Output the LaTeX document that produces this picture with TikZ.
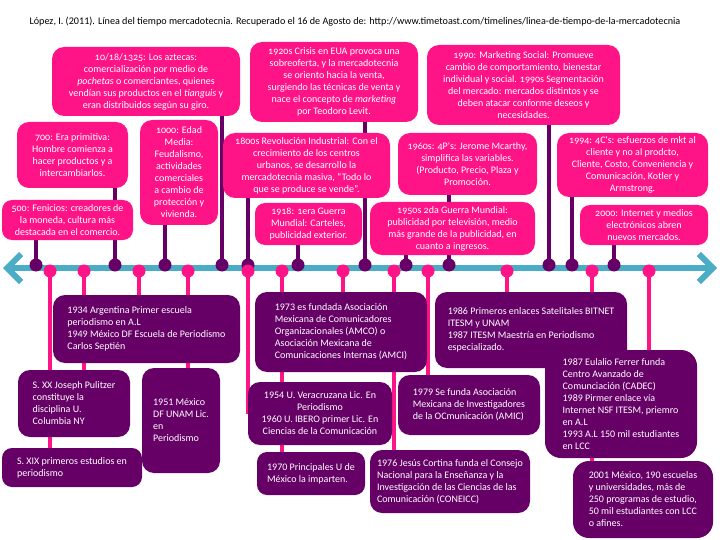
\documentclass[tikz,border=0pt]{standalone}
\usepackage{fontspec}
\setmainfont{Carlito}
\newfontfamily\topfont[Numbers=OldStyle]{Carlito}
\usepackage{tikz}
\definecolor{tlpink}{RGB}{255,20,135}
\definecolor{tlpurple}{RGB}{102,0,102}
\definecolor{tlaxis}{RGB}{75,172,198}
\tikzset{boxsize/.style 2 args={minimum width=#1pt,minimum height=#2pt},
         topbox/.style={rectangle,rounded corners=12pt,fill=tlpink,text=white,align=center,inner sep=2pt,font=\topfont\fontsize{10}{12}\selectfont},
         botbox/.style={rectangle,rounded corners=12pt,fill=tlpurple,text=white,align=left,inner sep=2pt,font=\fontsize{10}{12}\selectfont},
         darkdot/.style={circle,fill=tlpurple,inner sep=0,minimum size=13pt},
         pinkdot/.style={circle,fill=tlpink,inner sep=0,minimum size=13pt},
         darkstem/.style={line width=4pt,draw=tlpurple},
         pinkstem/.style={line width=4pt,draw=tlpink}}
\usetikzlibrary{arrows.meta}
\pgfdeclarelayer{background}
\pgfdeclarelayer{stems}
\pgfsetlayers{background,stems,main}

\begin{document}
\begin{tikzpicture}[x=1pt,y=-1pt]
\useasboundingbox (0,0) rectangle (720,540);
\node[font=\fontsize{10.15}{11}\selectfont] (ref) at (355,22) {López, I. (2011). Línea del tiempo mercadotecnia. Recuperado el 16 de Agosto de: http://www.timetoast.com/timelines/linea-de-tiempo-de-la-mercadotecnia};

%%boxes above the line
\node[topbox,boxsize={188}{69}] (t1325) at (146,81.5) {10/18/1325: Los aztecas:\\comercialización por medio de\\\emph{pochetas} o comerciantes, quienes\\vendían sus productos en el \emph{tianguis} y\\eran distribuidos según su giro.};
\node[topbox,boxsize={111}{66}] (t700) at (72.5,155) {700: Era primitiva:\\Hombre comienza a\\hacer productos y a\\intercambiarlos.};
\node[topbox,boxsize={131}{40},rounded corners=10pt] (t500) at (67.5,220) {500: Fenicios: creadores de\\la moneda, cultura más\\destacada en el comercio.};
\node[topbox,boxsize={78}{105}] (t1000) at (179,172.5) {1000: Edad\\Media:\\Feudalismo,\\actividades\\comerciales\\a cambio de\\protección y\\vivienda.};
\node[topbox,boxsize={168}{80}] (t1920) at (334,82) {1920s Crisis en EUA provoca una\\sobreoferta, y la mercadotecnia\\se oriento hacia la venta,\\surgiendo las técnicas de venta y\\nace el concepto de \emph{marketing}\\por Teodoro Levit.};
\node[topbox,boxsize={167}{65}] (t1800) at (306.5,165.5) {1800s Revolución Industrial: Con el\\crecimiento de los centros\\urbanos, se desarrollo la\\mercadotecnia masiva, “Todo lo\\que se produce se vende”.};
\node[topbox,boxsize={107}{42},rounded corners=10pt] (t1918) at (308.5,224) {1918: 1era Guerra\\Mundial: Carteles,\\publicidad exterior.};
\node[topbox,boxsize={193}{80}] (t1990) at (523.5,85) {1990: Marketing Social: Promueve\\cambio de comportamiento, bienestar\\individual y social. 1990s Segmentación\\del mercado: mercados distintos y se\\deben atacar conforme deseos y\\necesidades.};
\node[topbox,boxsize={139}{62}] (t1960) at (467.5,164) {1960s: 4P's: Jerome Mcarthy,\\simplifica las variables.\\(Producto, Precio, Plaza y\\Promoción.};
\node[topbox,boxsize={165}{53}] (t1950) at (452.5,228.5) {1950s 2da Guerra Mundial:\\publicidad por televisión, medio\\más grande de la publicidad, en\\cuanto a ingresos.};
\node[topbox,boxsize={151}{64}] (t1994) at (632.5,165) {1994: 4C's: esfuerzos de mkt al\\cliente y no al prodcto,\\Cliente, Costo, Conveniencia y\\Comunicación, Kotler y\\Armstrong.};
\node[topbox,boxsize={128}{40},rounded corners=10pt] (t2000) at (644,225) {2000: Internet y medios\\electrónicos abren\\nuevos mercados.};

%%boxes below the line
\node[botbox,boxsize={187}{68}] (b1934) at (146.5,329) {1934 Argentina Primer escuela\\periodismo en A.L\\1949 México DF Escuela de Periodismo\\Carlos Septién};
\node[botbox,boxsize={112}{67}] (bxx) at (74,403.5) {S. XX Joseph Pulitzer\\constituye la\\disciplina U.\\Columbia NY};
\node[botbox,boxsize={140}{39},rounded corners=10pt] (bxix) at (72,467.5) {S. XIX primeros estudios en\\periodismo};
\node[botbox,boxsize={78}{105}] (b1951) at (181,420.5) {1951 México\\DF UNAM Lic.\\en\\Periodismo};
\node[botbox,boxsize={172}{80}] (b1973) at (341,332) {1973 es fundada Asociación\\Mexicana de Comunicadores\\Organizacionales (AMCO) o\\Asociación Mexicana de\\Comunicaciones Internas (AMCI)};
\node[botbox,boxsize={144}{63},align=center] (b1954) at (320,413.5) {1954 U. Veracruzana Lic. En\\Periodismo\\1960 U. IBERO primer Lic. En\\Ciencias de la Comunicación};
\node[botbox,boxsize={108}{43},rounded corners=10pt] (b1970) at (311,473.5) {1970 Principales U de\\México la imparten.};
\node[botbox,boxsize={160}{63}] (b1976) at (450,481.5) {1976 Jesús Cortina funda el Consejo\\Nacional para la Enseñanza y la\\Investigación de las Ciencias de las\\Comunicación (CONEICC)};
\node[botbox,boxsize={142}{60}] (b1979) at (469,405) {1979 Se funda Asociación\\Mexicana de Investigadores\\de la OCmunicación (AMIC)};
\node[botbox,boxsize={192}{76}] (b1986) at (531,330) {1986 Primeros enlaces Satelitales BITNET\\ITESM y UNAM\\1987 ITESM Maestría en Periodismo\\especializado.};
\node[botbox,boxsize={152}{108},rounded corners=16pt] (b1987) at (621,404) {1987 Eulalio Ferrer funda\\Centro Avanzado de\\Comunciación (CADEC)\\1989 Pirmer enlace vía\\Internet NSF ITESM, priemro\\en A.L\\1993 A.L 150 mil estudiantes\\en LCC};
\node[botbox,boxsize={140}{77},rounded corners=16pt] (b2001) at (643,499.5) {2001 México, 190 escuelas\\y universidades, más de\\250 programas de estudio,\\50 mil estudiantes con LCC\\o afines.};

%%dots on the line
\foreach \x/\n in {36/d500,115/d700,165/d1000,222/d1325,248/d1800,298/d1918,365/d1920,406/d1950,449/d1960,549/d1990,572/d1994,614/d2000}
  \node[darkdot] (\n) at (\x,265) {};
\foreach \x/\n in {50/pxix,84/pxx,139/p1934,188/p1951,248/p1954,282/p1970,343/p1973,394/p1976,428/p1979,507/p1986,592/p2001,649/p1987}
  \node[pinkdot] (\n) at (\x,271) {};

\begin{pgfonlayer}{stems}
\foreach \n/\b in {d500/t500,d700/t700,d1000/t1000,d1325/t1325,d1800/t1800,d1918/t1918,d1920/t1920,d1950/t1950,d1960/t1960,d1990/t1990,d1994/t1994,d2000/t2000}
  \draw[darkstem] (\n.center) -- (\n.center |- \b.center);
\foreach \n/\b in {pxix/bxix,pxx/bxx,p1934/b1934,p1951/b1951,p1954/b1954,p1970/b1970,p1973/b1973,p1976/b1976,p1979/b1979,p1986/b1986,p2001/b2001,p1987/b1987}
  \draw[pinkstem] (\n.center) -- (\n.center |- \b.center);
\end{pgfonlayer}

%%white page and the line
\begin{pgfonlayer}{background}
\fill[white] (0,0) rectangle (720,540);
\coordinate (lend) at (3,268);
\coordinate (rend) at (717,268);
\draw[tlaxis,line width=6pt,{Straight Barb[length=14pt,width=28pt]}-{Straight Barb[length=14pt,width=28pt]}] (lend) -- (rend);
\end{pgfonlayer}
\end{tikzpicture}
\end{document}
